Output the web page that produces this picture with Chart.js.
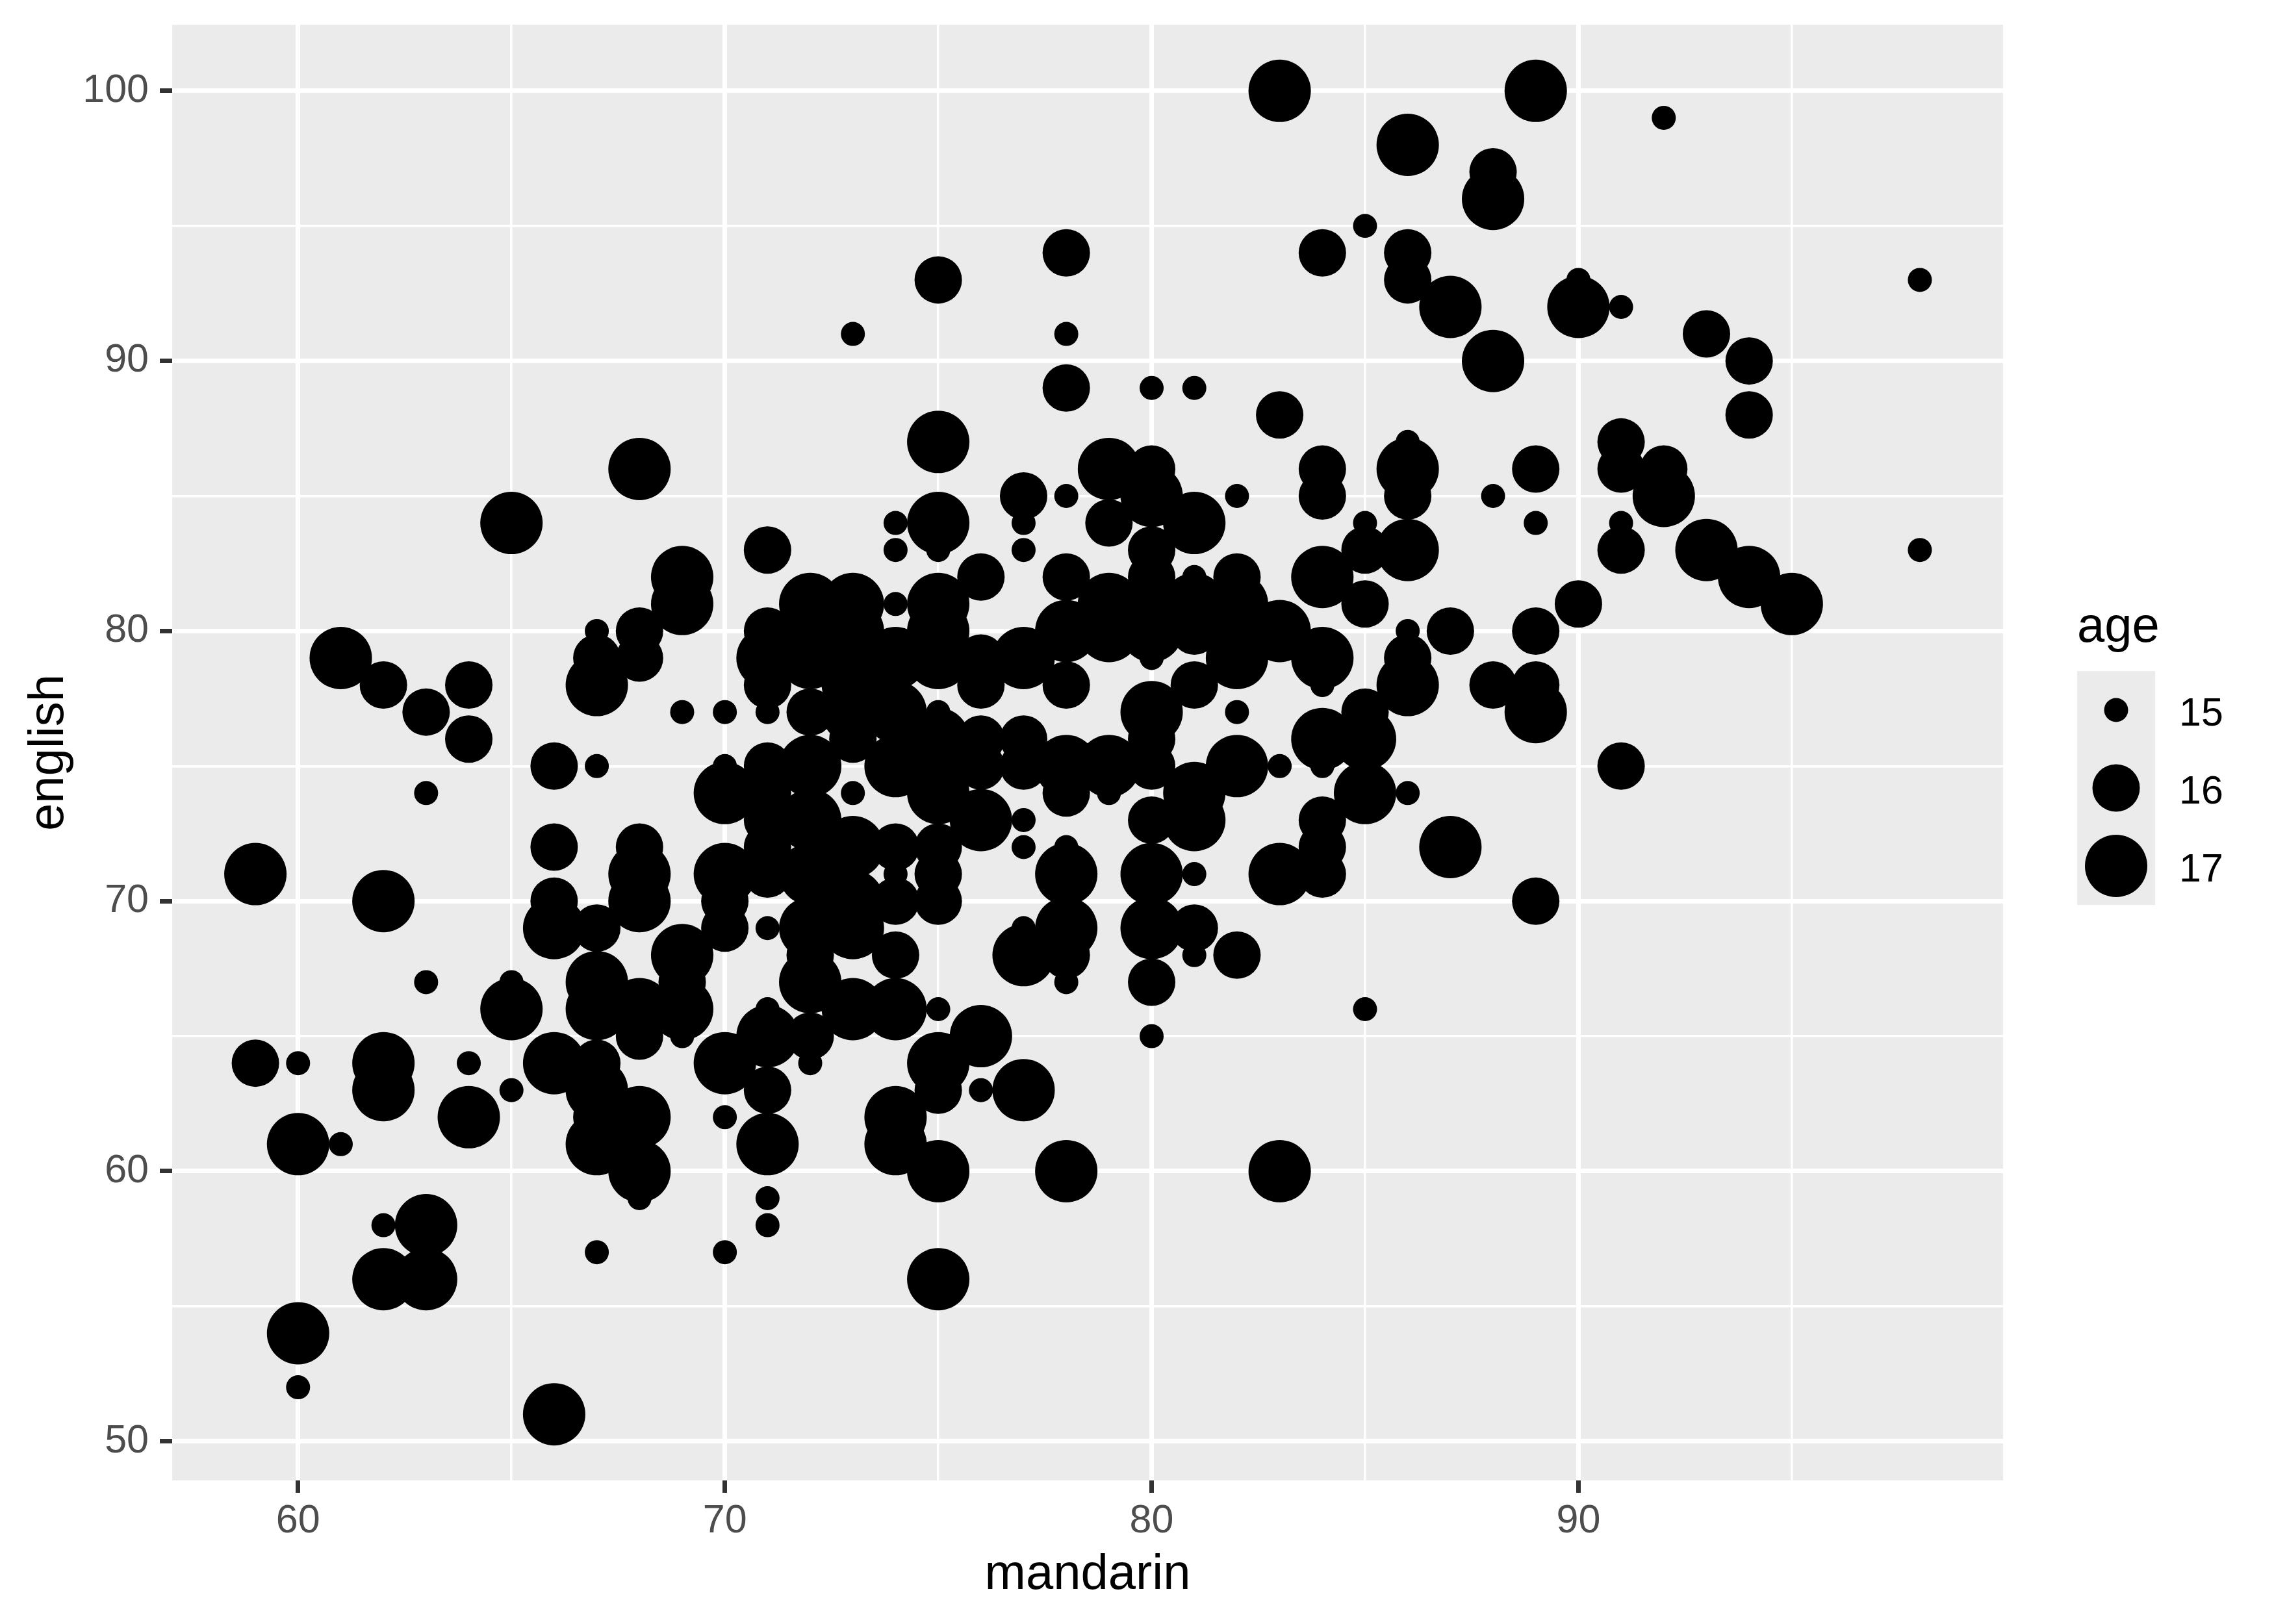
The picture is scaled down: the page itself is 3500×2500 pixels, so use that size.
<!DOCTYPE html>
<html>
<head>
<meta charset="utf-8">
<title>english vs mandarin</title>
<script src="https://cdn.jsdelivr.net/npm/chart.js@4"></script>
<style>
html, body { margin: 0; padding: 0; background: #fff; }
canvas { display: block; }
</style>
</head>
<body>
<canvas id="grafica" width="3500" height="2500"></canvas>
<script>
// one row per mandarin score, the three arrays line up element by element
const mandarin = [
  59,59,
  60,60,60,60,
  61,61,
  62,62,62,62,62,62,
  63,63,63,63,63,
  64,64,64,64,
  65,65,65,65,
  66,66,66,66,66,66,
  67,67,67,67,67,67,67,67,67,67,67,67,
  68,68,68,68,68,68,68,68,68,68,68,
  69,69,69,69,69,69,69,
  70,70,70,70,70,70,70,70,70,
  71,71,71,71,71,71,71,71,71,71,71,71,71,71,71,71,71,
  72,72,72,72,72,72,72,72,72,72,72,72,
  73,73,73,73,73,73,73,73,73,73,73,
  74,74,74,74,74,74,74,74,74,74,74,74,74,
  75,75,75,75,75,75,75,75,75,75,75,75,75,75,75,75,75,75,75,
  76,76,76,76,76,76,76,76,
  77,77,77,77,77,77,77,77,77,77,77,
  78,78,78,78,78,78,78,78,78,78,78,78,78,78,78,
  79,79,79,79,79,79,
  80,80,80,80,80,80,80,80,80,80,80,80,80,80,80,80,
  81,81,81,81,81,81,81,81,81,81,81,
  82,82,82,82,82,82,82,82,
  83,83,83,83,83,83,
  84,84,84,84,84,84,84,84,84,84,84,
  85,85,85,85,85,85,85,85,
  86,86,86,86,86,86,86,86,86,86,86,
  87,87,87,
  88,88,88,88,88,
  89,89,89,89,89,89,89,
  90,90,90,
  91,91,91,91,91,91,
  92,92,92,
  93,93,
  94,94,94,
  95,
  98,98
];
const english = [
  71,64,
  64,61,54,52,
  79,61,
  78,70,64,63,58,56,
  77,74,67,58,56,
  78,76,64,62,
  84,67,66,63,
  75,72,70,69,64,51,
  80,79,78,75,69,67,66,64,63,62,61,57,
  86,80,79,72,71,70,66,65,62,60,59,
  82,81,77,68,67,66,65,
  77,75,74,71,70,69,64,62,57,
  83,80,79,78,77,75,74,73,72,71,69,66,65,63,61,59,58,
  81,80,79,77,75,73,71,69,68,67,65,64,
  91,81,80,78,77,76,74,72,70,69,66,
  84,83,81,79,77,75,72,71,70,68,66,62,61,
  93,87,84,83,81,80,79,77,76,75,74,72,71,70,66,64,63,60,56,
  82,79,78,76,75,73,65,63,
  85,84,83,79,76,75,73,72,69,68,63,
  94,91,89,85,82,80,78,75,74,72,71,69,68,67,60,
  86,84,81,80,75,74,
  89,86,85,83,82,81,80,79,77,76,75,73,71,69,67,65,
  89,84,82,81,80,78,74,73,71,69,68,
  85,82,81,80,79,77,75,68,
  100,88,80,75,71,60,
  94,86,85,82,79,78,76,75,73,72,71,
  95,84,83,81,77,76,74,66,
  98,94,93,87,86,85,83,80,79,78,74,
  92,80,72,
  97,96,90,85,78,
  100,86,84,80,78,77,70,
  93,92,81,
  92,87,86,84,83,75,
  99,86,85,
  91,83,
  90,88,82,
  81,
  93,83
];
const age = [
  17,16,
  15,17,17,15,
  17,15,
  16,17,17,17,15,17,
  16,15,15,17,17,
  16,16,15,17,
  17,15,17,15,
  16,16,16,17,17,17,
  15,16,17,15,16,17,17,16,17,16,17,15,
  17,16,16,16,17,17,17,16,17,17,15,
  17,17,15,17,16,17,15,
  15,15,17,17,16,16,17,15,15,
  16,16,17,16,15,16,16,16,16,16,15,15,17,16,17,15,15,
  17,17,17,16,17,17,17,17,16,17,16,15,
  15,17,17,17,17,16,15,17,17,17,17,
  15,15,15,17,17,17,16,15,16,16,17,17,17,
  16,17,17,15,17,17,17,15,17,17,17,16,16,16,15,17,16,17,17,
  16,16,16,16,16,17,17,15,
  16,15,15,17,16,16,15,15,15,17,17,
  16,15,16,15,16,17,16,17,16,15,17,17,16,15,17,
  17,16,17,17,17,15,
  15,16,17,16,16,17,17,15,17,16,16,16,17,17,16,15,
  15,17,15,17,16,16,17,17,15,16,15,
  15,16,17,17,17,15,17,16,
  17,16,17,15,17,17,
  16,16,16,17,17,15,17,15,16,16,16,
  15,15,16,16,16,17,17,15,
  17,16,16,15,17,16,17,15,16,17,15,
  17,16,17,
  16,17,17,15,16,
  17,16,15,16,16,17,16,
  15,17,16,
  15,16,16,15,16,16,
  15,16,17,
  16,17,
  16,16,17,
  17,
  15,15
];
const radioPorEdad = { 15: 18.5, 16: 36.5, 17: 48 };

const ticksX = [60, 65, 70, 75, 80, 85, 90, 95];
const ticksY = [50, 55, 60, 65, 70, 75, 80, 85, 90, 95, 100];
const etiquetasX = [60, 70, 80, 90];
const etiquetasY = [50, 60, 70, 80, 90, 100];
const edadesLeyenda = [15, 16, 17];

const fuente = '"Liberation Sans", Arial, sans-serif';
const bordeSuperior = 38;

// ejes estilo ggplot: linea gruesa en las mayores, fina en las menores
function opcionesEje(ticks, etiquetas, titulo, tamano, min, max, padTick, padTitulo) {
    return {
        type: 'linear',
        min: min,
        max: max,
        afterBuildTicks: (scale) => { scale.ticks = ticks.map(v => ({ value: v })) },
        afterFit: (scale) => {
            if (scale.isHorizontal()) scale.height = tamano
            else scale.width = tamano
        },
        border: { display: false },
        grid: {
            color: '#ffffff',
            lineWidth: (c) => etiquetas.includes(c.tick.value) ? 7 : 3.5,
            tickColor: (c) => etiquetas.includes(c.tick.value) ? '#333333' : 'rgba(0,0,0,0)',
            tickWidth: 7,
            tickLength: 19
        },
        ticks: {
            autoSkip: false,
            maxRotation: 0,
            padding: padTick,
            color: '#4D4D4D',
            font: { family: fuente, size: 61 },
            callback: (v) => etiquetas.includes(v) ? String(v) : ''
        },
        title: {
            display: true,
            text: titulo,
            color: '#000000',
            font: { family: fuente, size: 76 },
            padding: padTitulo
        }
    }
}

// el layout deja el panel unos pixeles mas abajo, se corrige aqui
const ajustePanel = {
    id: 'ajustePanel',
    afterLayout(chart) {
        const a = chart.chartArea
        const y = chart.scales.y
        a.top = bordeSuperior
        a.height = a.bottom - bordeSuperior
        y.top = bordeSuperior
        y.height = y.bottom - bordeSuperior
        y.configure()
    }
}

// fondo gris del panel
const fondoPanel = {
    id: 'fondoPanel',
    beforeDraw(chart) {
        const a = chart.chartArea
        chart.ctx.save()
        chart.ctx.fillStyle = '#EBEBEB'
        chart.ctx.fillRect(a.left, a.top, a.right - a.left, a.bottom - a.top)
        chart.ctx.restore()
    }
}

// leyenda de tamanos a la derecha
const leyendaEdad = {
    id: 'leyendaEdad',
    afterDraw(chart) {
        const ctx = chart.ctx
        ctx.save()
        ctx.fillStyle = '#000000'
        ctx.textBaseline = 'alphabetic'
        ctx.textAlign = 'left'
        ctx.font = '76px ' + fuente
        ctx.fillText('age', 3197, 988)
        ctx.fillStyle = '#EBEBEB'
        ctx.fillRect(3197, 1033, 120, 360)
        edadesLeyenda.forEach((edad, i) => {
            const cy = 1093 + i * 120
            ctx.fillStyle = '#000000'
            ctx.beginPath()
            ctx.arc(3257, cy, radioPorEdad[edad], 0, Math.PI * 2)
            ctx.fill()
            ctx.font = '61px ' + fuente
            ctx.fillText(String(edad), 3354, cy + 24)
        })
        ctx.restore()
    }
}

new Chart(document.getElementById('grafica').getContext('2d'), {
    type: 'scatter',
    data: {
        datasets: [{
            data: mandarin.map((m, i) => ({ x: m, y: english[i] })),
            backgroundColor: '#000000',
            borderWidth: 0,
            pointRadius: age.map(a => radioPorEdad[a]),
            pointHoverRadius: age.map(a => radioPorEdad[a])
        }]
    },
    options: {
        responsive: false,
        animation: false,
        devicePixelRatio: 1,
        layout: { padding: { top: bordeSuperior, right: 417, bottom: 0, left: 0 } },
        scales: {
            x: opcionesEje(ticksX, etiquetasX, 'mandarin', 221, 57.05, 99.95, 8, { top: 0, bottom: 29 }),
            y: opcionesEje(ticksY, etiquetasY, 'english', 265, 48.55, 102.45, 17, { top: 30, bottom: 0 })
        },
        plugins: {
            legend: { display: false },
            tooltip: { enabled: false }
        }
    },
    plugins: [ajustePanel, fondoPanel, leyendaEdad]
});
</script>
</body>
</html>
